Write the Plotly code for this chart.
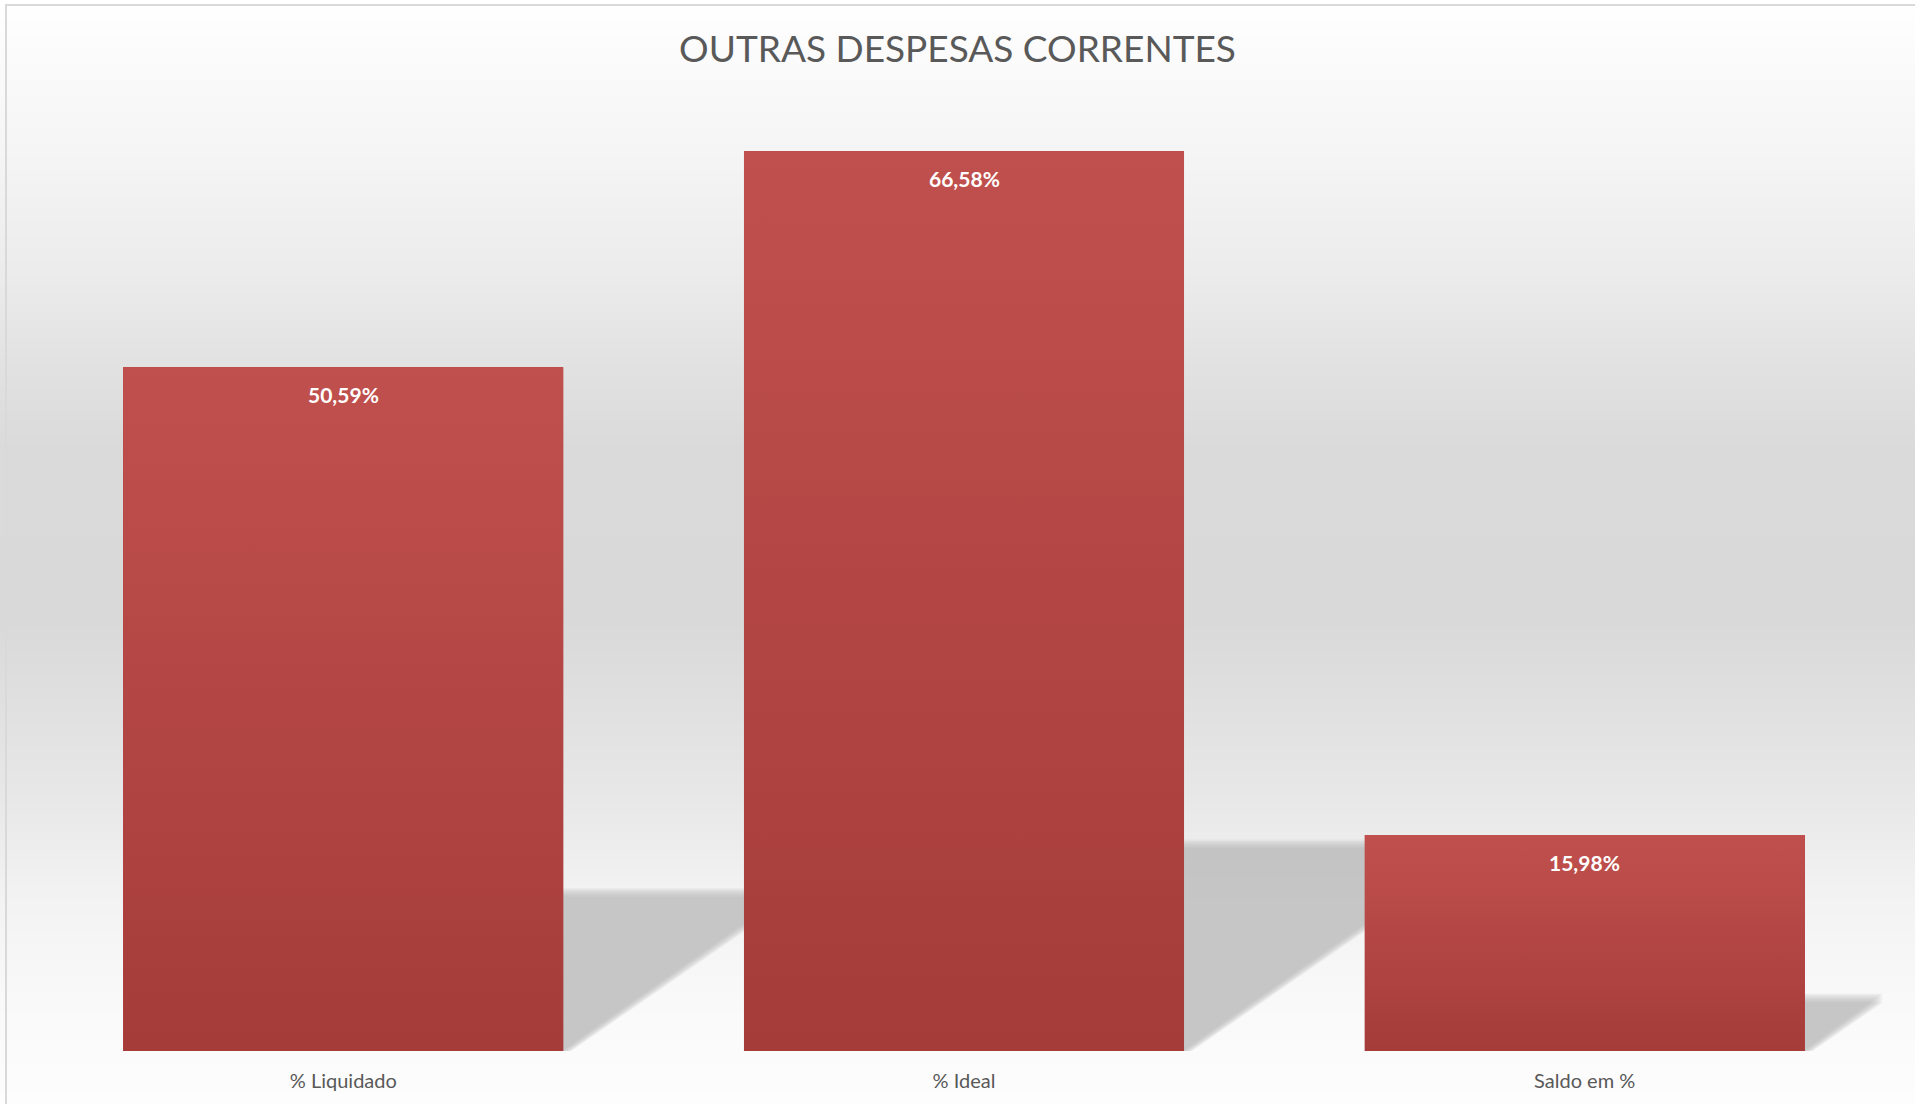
import base64
import struct
import zlib

import plotly.graph_objects as go

# ---------------- data ----------------
categories = ["% Liquidado", "% Ideal", "Saldo em %"]
values = [50.59, 66.58, 15.98]
value_labels = ["50,59%", "66,58%", "15,98%"]
title_text = "OUTRAS DESPESAS CORRENTES"

# ---------------- layout geometry ----------------
W, H = 1915, 1104
L, R, T, B = 33, 20, 105, 53
YMAX = 70
PW, PH = W - L - R, H - T - B
BAR_W = 0.709
N = len(categories)
X_PER_PX = N / PW          # x-axis units per pixel
Y_PER_PX = YMAX / PH       # y-axis units per pixel

TOP_COLOR = "#c0504d"
BOTTOM_COLOR = "#a53c3a"
TEXT_GRAY = "#595959"
FONT = "Lato"


# ---------------- background gradient (1px wide png, stretched) ----------------
def gray_png(vals):
    raw = b"".join(b"\x00" + bytes([v]) for v in vals)

    def chunk(tag, data):
        c = struct.pack(">I", len(data)) + tag + data
        return c + struct.pack(">I", zlib.crc32(tag + data) & 0xFFFFFFFF)

    ihdr = struct.pack(">IIBBBBB", 1, len(vals), 8, 0, 0, 0, 0)
    png = (b"\x89PNG\r\n\x1a\n" + chunk(b"IHDR", ihdr)
           + chunk(b"IDAT", zlib.compress(raw)) + chunk(b"IEND", b""))
    return "data:image/png;base64," + base64.b64encode(png).decode()


bg_stops = [(0, 255), (40, 252), (150, 245), (280, 235), (360, 226), (450, 218),
            (620, 217), (680, 222), (800, 232), (890, 242), (1000, 249), (1104, 253)]


def bg_at(y):
    for (y0, g0), (y1, g1) in zip(bg_stops, bg_stops[1:]):
        if y0 <= y <= y1:
            t = (y - y0) / (y1 - y0) if y1 > y0 else 0
            return int(round(g0 + (g1 - g0) * t))
    return bg_stops[-1][1]


bg_column = [bg_at(y) for y in range(H)]

fig = go.Figure()

# main bars
xs = list(range(N))
fig.add_trace(go.Bar(
    x=xs, y=values, width=BAR_W,
    marker=dict(color="#b34845", line=dict(width=0)),
    customdata=categories,
    hovertemplate="%{customdata}: %{y:.2f}%<extra></extra>",
    showlegend=False,
))

# vertical gradient overlay on each bar
for i, v in zip(xs, values):
    fig.add_trace(go.Scatter(
        x=[i - BAR_W / 2, i + BAR_W / 2, i + BAR_W / 2, i - BAR_W / 2, i - BAR_W / 2],
        y=[0, 0, v, v, 0],
        mode="lines", fill="toself",
        fillgradient=dict(type="vertical",
                          colorscale=[[0, BOTTOM_COLOR], [1, TOP_COLOR]]),
        line=dict(width=0, color="rgba(0,0,0,0)"),
        hoverinfo="skip", showlegend=False,
    ))

# perspective floor shadows (soft edges via layered translucent polygons)
shapes = []
for i, v in zip(xs, values):
    h_px = v / Y_PER_PX
    sh_h = 0.225 * h_px * Y_PER_PX          # shadow height (y units)
    skew = 0.325 * h_px * X_PER_PX          # horizontal shift at the top (x units)
    off = 8 * X_PER_PX
    for k in range(7):
        grow = (6 - k) * 1.5
        gx = grow * X_PER_PX
        gy = grow * Y_PER_PX
        x0 = i - BAR_W / 2 + off - gx
        x1 = i + BAR_W / 2 + off - gx
        path = (f"M {x0},0 L {x1},0 L {x1 + skew + gx},{sh_h + gy} "
                f"L {x0 + skew},{sh_h + gy} Z")
        shapes.append(dict(type="path", xref="x", yref="y", path=path,
                           fillcolor="rgba(180,180,180,0.16)",
                           line=dict(width=0), layer="below"))

# chart border (light gray, top and left visible)
shapes.append(dict(type="rect", xref="paper", yref="paper",
                   x0=(6 - L) / PW, x1=(W + 20 - L) / PW,
                   y0=-(B + 20) / PH, y1=1 + (T - 5) / PH,
                   line=dict(color="#d9d9d9", width=2),
                   fillcolor="rgba(0,0,0,0)", layer="above"))

annotations = []
for i, v, lab in zip(xs, values, value_labels):
    annotations.append(dict(x=i, y=v, xref="x", yref="y", text=lab,
                            showarrow=False, yanchor="middle", yshift=-27,
                            font=dict(family=FONT, size=21, color="white",
                                      weight="bold")))

fig.update_layout(
    width=W, height=H,
    margin=dict(l=L, r=R, t=T, b=B, pad=0),
    paper_bgcolor="white",
    plot_bgcolor="rgba(0,0,0,0)",
    title=dict(text=title_text, x=0.5, xanchor="center",
               y=1 - 49 / H, yanchor="middle", yref="container",
               font=dict(family=FONT, size=37, color=TEXT_GRAY)),
    font=dict(family=FONT, color=TEXT_GRAY),
    xaxis=dict(range=[-0.5, N - 0.5], tickvals=xs, ticktext=categories,
               showgrid=False, zeroline=False, showline=False, ticks="",
               ticklabelstandoff=16,
               tickfont=dict(family=FONT, size=20, color=TEXT_GRAY),
               fixedrange=True),
    yaxis=dict(range=[0, YMAX], visible=False, fixedrange=True),
    images=[dict(source=gray_png(bg_column), xref="paper", yref="paper",
                 x=-L / PW, y=1 + T / PH, sizex=W / PW, sizey=H / PH,
                 xanchor="left", yanchor="top", sizing="stretch",
                 layer="below")],
    shapes=shapes,
    annotations=annotations,
    bargap=0,
)

fig.write_html(
    "out.html",
    config={"displayModeBar": False},
    post_script="document.body.style.margin='0';document.body.style.overflow='hidden';",
)
